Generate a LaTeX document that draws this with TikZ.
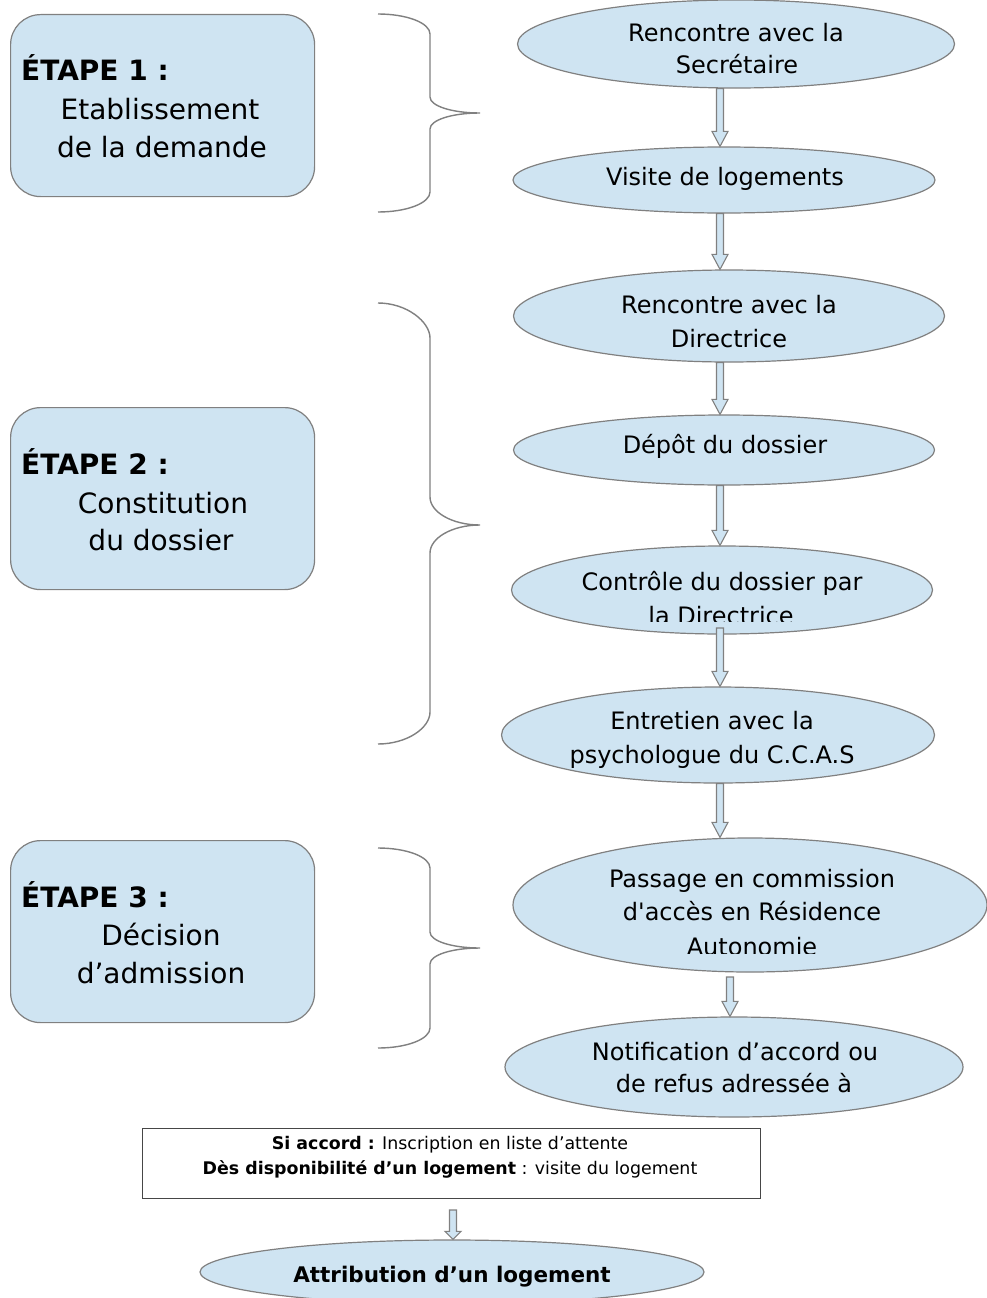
\documentclass[tikz,border=0pt]{standalone}
\usepackage{fontspec}
\setmainfont{DejaVu Sans}[Ligatures=TeXOff]
\usetikzlibrary{shapes.geometric,calc}
\definecolor{fillblue}{RGB}{207,228,242}
\definecolor{edgegray}{RGB}{128,128,128}
\definecolor{rectgray}{RGB}{70,70,70}
\tikzset{
 ell/.style={ellipse, draw=edgegray, fill=fillblue, line width=1.2pt, inner sep=0pt},
 stagebox/.style={draw=edgegray, fill=fillblue, line width=1.2pt, rounded corners=30pt, inner sep=0pt, anchor=north west},
 brace/.style={draw=edgegray, line width=1.4pt},
 barr/.style={draw=edgegray, fill=fillblue, line width=1.1pt, line join=miter},
 lbl/.style={inner sep=0pt, anchor=base, font=\fontsize{24}{28}\selectfont},
 ttl/.style={inner sep=0pt, anchor=base west, font=\fontsize{28}{32}\selectfont\bfseries},
 sub/.style={inner sep=0pt, anchor=base, font=\fontsize{28}{32}\selectfont},
 note/.style={inner sep=0pt, anchor=base, font=\fontsize{17.4}{20}\selectfont},
 notebox/.style={draw=rectgray, fill=white, line width=0.9pt, inner sep=0pt, anchor=north west},
}
\newcommand\barrow[3][15]{\draw[barr] let \p1=(#2), \p2=(#3) in
  (\x1-3.5pt,\y1) -- (\x1+3.5pt,\y1) -- (\x1+3.5pt,\y2+#1pt) -- (\x1+8pt,\y2+#1pt)
  -- (\x1,\y2) -- (\x1-8pt,\y2+#1pt) -- (\x1-3.5pt,\y2+#1pt) -- cycle;}
\begin{document}
\begin{tikzpicture}[x=1pt,y=-1pt]
\fill[white] (0,0) rectangle (987,1298);
\useasboundingbox (0,0) rectangle (987,1298);

% stage boxes
\node[stagebox, minimum width=304pt, minimum height=182pt] (s1) at (10,14) {};
\node[stagebox, minimum width=304pt, minimum height=182pt] (s2) at (10,407) {};
\node[stagebox, minimum width=304pt, minimum height=182pt] (s3) at (10,840) {};

\node[ttl] (s1t) at (21,81) {ÉTAPE 1 :};
\node[sub] (s1a) at (160,119) {Etablissement};
\node[sub] (s1b) at (162,157) {de la demande};
\node[ttl] (s2t) at (21,474) {ÉTAPE 2 :};
\node[sub] (s2a) at (163,513) {Constitution};
\node[sub] (s2b) at (161,550) {du dossier};
\node[ttl] (s3t) at (21,907) {ÉTAPE 3 :};
\node[sub] (s3a) at (161,945) {Décision};
\node[sub] (s3b) at (161,983) {d’admission};

% braces
\draw[brace] (378,14) .. controls (407,14) and (430,23) .. (430,34) -- (430,97)
  .. controls (430,106) and (452,113) .. (480,113)
  .. controls (452,113) and (430,120) .. (430,129) -- (430,192)
  .. controls (430,203) and (407,212) .. (378,212);
\draw[brace] (378,303) .. controls (407,303) and (430,322) .. (430,338) -- (430,497)
  .. controls (430,512) and (452,525) .. (480,525)
  .. controls (452,525) and (430,538) .. (430,553) -- (430,712)
  .. controls (430,728) and (407,744) .. (378,744);
\draw[brace] (378,848) .. controls (407,848) and (430,857) .. (430,868) -- (430,932)
  .. controls (430,941) and (452,948) .. (480,948)
  .. controls (452,948) and (430,955) .. (430,964) -- (430,1028)
  .. controls (430,1039) and (407,1048) .. (378,1048);

% ellipses
\node[ell, minimum width=437pt, minimum height=88pt] (e1) at (736,44) {};
\node[ell, minimum width=422pt, minimum height=66pt] (e2) at (724,180) {};
\node[ell, minimum width=431pt, minimum height=92pt] (e3) at (729,316) {};
\node[ell, minimum width=421pt, minimum height=70pt] (e4) at (724,450) {};
\node[ell, minimum width=421pt, minimum height=88pt] (e5) at (722,590) {};
\node[ell, minimum width=433pt, minimum height=96pt] (e6) at (718,735) {};
\node[ell, minimum width=474pt, minimum height=134pt] (e7) at (750,905) {};
\node[ell, minimum width=458pt, minimum height=100pt] (e8) at (734,1067) {};
\node[ell, minimum width=504pt, minimum height=64pt] (e9) at (452,1272) {};

% ellipse texts
\node[lbl] (t1a) at (736,42) {Rencontre avec la};
\node[lbl] (t1b) at (737,74) {Secrétaire};
\node[lbl] (t2) at (725,185) {Visite de logements};
\node[lbl] (t3a) at (729,313) {Rencontre avec la};
\node[lbl] (t3b) at (729,347) {Directrice};
\node[lbl] (t4) at (725,453) {Dépôt du dossier};
\node[lbl] (t5a) at (722,590) {Contrôle du dossier par};
\begin{scope}
\clip (600,595) rectangle (850,621);
\node[lbl] (t5b) at (721,624) {la Directrice};
\end{scope}
\node[lbl] (t6a) at (712,729) {Entretien avec la};
\node[lbl] (t6b) at (712,763) {psychologue du C.C.A.S};
\node[lbl] (t7a) at (752,887) {Passage en commission};
\node[lbl] (t7b) at (752,920) {d'accès en Résidence};
\begin{scope}
\clip (650,925) rectangle (860,953);
\node[lbl] (t7c) at (752,955) {Autonomie};
\end{scope}
\node[lbl] (t8a) at (735,1060) {Notification d’accord ou};
\node[lbl] (t8b) at (734,1092) {de refus adressée à};
\node[lbl, font=\fontsize{21.5}{26}\selectfont\bfseries] (t9) at (452,1282) {Attribution d’un logement};

% note box
\node[notebox, minimum width=618pt, minimum height=70pt] (r) at (142,1128) {};
\node[note] (r1) at (450,1149) {\textbf{Si accord :} Inscription en liste d’attente};
\node[note] (r2) at (450,1174) {\textbf{Dès disponibilité d’un logement} : visite du logement};

% block arrows
\barrow{720,0 |- e1.south}{720,0 |- e2.north}
\barrow{720,0 |- e2.south}{720,0 |- e3.north}
\barrow{720,0 |- e3.south}{720,0 |- e4.north}
\barrow{720,0 |- e4.south}{720,0 |- e5.north}
\barrow{720,628}{720,0 |- e6.north}
\barrow{720,0 |- e6.south}{720,0 |- e7.north}
\coordinate (a7s) at (730,977);
\barrow{a7s}{730,0 |- e8.north}
\coordinate (a8s) at (453,1210);
\barrow[8]{a8s}{453,0 |- e9.north}
\end{tikzpicture}
\end{document}
